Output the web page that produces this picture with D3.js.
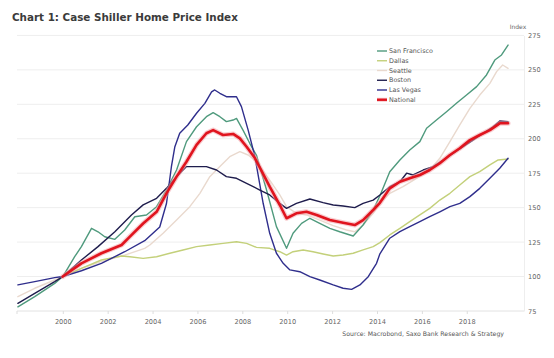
<!DOCTYPE html>
<html><head><meta charset="utf-8">
<script src="https://cdn.jsdelivr.net/npm/d3@7"></script>
<style>
html,body{margin:0;padding:0;background:#fff;}
svg{display:block;font-family:"DejaVu Sans",Verdana,sans-serif;}
</style></head>
<body>
<svg id="c" width="554" height="358"></svg>
<script>
// ---- Data (decimal year, index value) ----
const sanFrancisco = [[1998.0,78],[1998.75,85.4],[1999.64,95],[2000,100],[2000.53,114.4],[2000.83,121.7],[2001.28,135],[2001.57,132.5],[2001.87,128.9],[2002.32,127],[2002.76,133.8],[2003.21,143.4],[2003.73,144.7],[2004.18,150.7],[2004.62,162.8],[2005.07,177.3],[2005.51,197.9],[2005.96,208.7],[2006.40,216],[2006.70,218.9],[2007.0,216],[2007.29,212.4],[2007.59,213.6],[2007.74,214.8],[2008.03,206.3],[2008.33,196.7],[2008.63,188],[2009.08,162.8],[2009.52,136.2],[2009.97,120.5],[2010.26,131.4],[2010.64,138.6],[2011.01,142.3],[2011.45,138.6],[2011.90,135],[2012.34,132.5],[2012.94,129.4],[2013.38,137.4],[2013.83,148.3],[2014.13,158.6],[2014.57,176.1],[2015.02,184.6],[2015.46,191.8],[2015.91,197.9],[2016.21,207.6],[2016.65,213.6],[2017.10,219.6],[2017.54,225.7],[2017.99,231.7],[2018.44,237.8],[2018.88,246.3],[2019.25,257.1],[2019.55,260.8],[2019.84,268]];
const dallas = [[2000,100],[2000.83,106],[2001.72,112],[2002.62,114.9],[2002.99,114.4],[2003.58,113.2],[2004.18,114.4],[2004.77,116.9],[2005.36,119.3],[2005.96,121.7],[2006.55,122.9],[2007.14,124.1],[2007.74,125.3],[2008.19,124.1],[2008.63,121.2],[2009.22,120.5],[2009.67,118],[2009.97,115.6],[2010.26,118],[2010.71,119.3],[2011.15,118],[2011.60,116.4],[2012.05,114.9],[2012.49,115.6],[2012.94,116.9],[2013.38,119.3],[2013.83,121.7],[2014.13,124.6],[2014.57,130.2],[2015.02,135],[2015.46,139.8],[2015.91,144.7],[2016.35,149.5],[2016.80,155.5],[2017.25,160.4],[2017.69,166.4],[2018.14,172.5],[2018.58,176.1],[2019.03,181],[2019.40,184.6],[2019.84,185.3]];
const seattle = [[1998.0,85.4],[1998.75,91.5],[1999.64,97.5],[2000,100],[2000.83,106],[2001.72,110.8],[2002.76,115.5],[2003.65,120.5],[2003.88,122.9],[2004.47,131.4],[2005.07,141],[2005.66,150.7],[2006.11,160.4],[2006.55,172.5],[2007.0,179.8],[2007.44,187],[2007.89,190.6],[2008.26,188.2],[2008.63,183.3],[2009.22,170],[2009.67,159.2],[2009.97,150.7],[2010.41,145.9],[2010.86,144.7],[2011.45,141],[2012.05,136.9],[2012.64,133.8],[2013.01,132.5],[2013.38,137.4],[2013.83,145.9],[2014.13,153.1],[2014.57,160.4],[2015.16,165.2],[2015.76,171.3],[2016.35,177.3],[2016.80,185.8],[2017.25,197.9],[2017.69,210],[2018.14,222.1],[2018.58,231.7],[2019.03,240.2],[2019.33,248.7],[2019.60,253.5],[2019.84,251.1]];
const boston = [[1998.0,80.6],[1998.75,87.8],[1999.64,96.3],[2000,100],[2000.83,112],[2001.57,121.7],[2002.32,132.5],[2003.06,144.7],[2003.58,152],[2004.18,156.8],[2004.62,164],[2005.07,172.5],[2005.51,179.8],[2005.96,179.8],[2006.40,179.8],[2006.85,177.3],[2007.29,172.5],[2007.74,171.3],[2008.19,167.7],[2008.78,162.8],[2009.22,159.2],[2009.67,153.1],[2009.97,149.5],[2010.41,153.1],[2011.01,156.3],[2011.60,153.6],[2012.05,151.9],[2012.49,151.2],[2013.01,150],[2013.38,153.1],[2013.83,155.5],[2014.13,159.2],[2014.57,165.2],[2015.02,168.8],[2015.32,175],[2015.61,173.7],[2016.06,177.3],[2016.50,179.8],[2016.95,184.6],[2017.39,189.4],[2017.84,194.2],[2018.28,199],[2018.73,204],[2019.17,208.7],[2019.47,212.9],[2019.84,212.4]];
const lasVegas = [[1998.0,94],[1998.75,96.3],[1999.64,99.2],[2000,100],[2000.83,104.2],[2001.72,109.6],[2002.76,118],[2003.65,126],[2004.32,136],[2004.62,153],[2004.84,179.7],[2004.99,194],[2005.21,204],[2005.57,210],[2005.96,218.5],[2006.33,225.7],[2006.63,234],[2006.77,235.4],[2007.0,233],[2007.29,230.5],[2007.74,230.5],[2007.96,223.3],[2008.26,206.3],[2008.56,187],[2008.93,153],[2009.22,131.4],[2009.52,116.9],[2009.82,109.6],[2010.12,104.8],[2010.56,103.5],[2011.01,99.9],[2011.45,97.5],[2012.05,93.9],[2012.49,91.5],[2012.87,90.7],[2013.24,93.9],[2013.61,99.9],[2013.98,109.6],[2014.13,116.5],[2014.57,127.8],[2015.02,132.6],[2015.46,136.2],[2015.91,139.8],[2016.35,143.4],[2016.80,147],[2017.25,150.7],[2017.69,153.1],[2018.14,158],[2018.58,164],[2019.03,171.3],[2019.47,178.6],[2019.84,185.8]];
const national = [[2000,100],[2000.83,109.6],[2001.72,116.9],[2002.62,122.9],[2002.99,129],[2003.58,138.5],[2004.18,147],[2004.62,160.4],[2005.07,172.5],[2005.51,183.3],[2005.96,195.5],[2006.40,204],[2006.70,206.3],[2007.14,202.7],[2007.59,203.5],[2007.89,200.3],[2008.19,194.2],[2008.56,186],[2009.22,165.2],[2009.67,151.9],[2009.97,142.3],[2010.41,145.9],[2010.86,147],[2011.31,144.7],[2011.90,141],[2012.49,139.1],[2013.01,137.4],[2013.38,141],[2013.83,148.3],[2014.13,153.5],[2014.57,164],[2015.02,168.8],[2015.46,171.3],[2015.91,173.7],[2016.35,177.3],[2016.80,182.2],[2017.25,188.2],[2017.69,193.1],[2018.14,199],[2018.58,202.7],[2019.03,206.3],[2019.47,211.2],[2019.84,211.2]];

const seriesNames = ["San Francisco","Dallas","Seattle","Boston","Las Vegas","National"];
const seriesColors = ["#4f9a7d","#c3d07a","#e9d9ce","#1f1d4d","#2f2e8c","#e0141e"];
const yTicks = [75,100,125,150,175,200,225,250,275];
const xTicks = [2000,2002,2004,2006,2008,2010,2012,2014,2016,2018];
const titleText = "Chart 1: Case Shiller Home Price Index";
const sourceText = "Source: Macrobond, Saxo Bank Research & Strategy";
const unitText = "Index";

const seriesData = [sanFrancisco, dallas, seattle, boston, lasVegas, national];

const svg = d3.select("#c");
const x = d3.scaleLinear().domain([1997.96, 2019.9]).range([17, 509.4]);
const y = d3.scaleLinear().domain([75, 275]).range([311, 35.4]);
const plotRight = 524;

function fit(sel, target){
  const len = sel.node().getComputedTextLength();
  const fs = parseFloat(sel.attr("font-size"));
  sel.attr("font-size", (fs*target/len).toFixed(2));
}

// title
const t = svg.append("text").attr("x",12).attr("y",20.5).attr("font-size",11)
  .attr("font-weight","bold").attr("fill","#3b3b3b").text(titleText);
fit(t, 226);

// grid
svg.append("g").selectAll("line").data(yTicks).join("line")
  .attr("x1",17).attr("x2",plotRight)
  .attr("y1",d=>y(d)).attr("y2",d=>y(d))
  .attr("stroke", d=> d===75 ? "#e2e2e2" : "#eeeeee").attr("stroke-width",1);

// right axis (ticks labels)
const yAxis = d3.axisRight(y).tickValues(yTicks).tickSize(0).tickPadding(4);
const ya = svg.append("g").attr("transform",`translate(${plotRight},0)`).call(yAxis);
ya.select(".domain").attr("stroke","#eeeeee");
ya.selectAll("text").attr("font-size",6.6).attr("fill","#666").attr("font-family","DejaVu Sans, Verdana, sans-serif");

svg.append("text").attr("x",518).attr("y",29).attr("text-anchor","middle")
  .attr("font-size",6).attr("fill","#666").text(unitText);

// bottom axis
const xAxis = d3.axisBottom(x).tickValues(xTicks).tickFormat(d3.format("d")).tickSize(3).tickPadding(5);
const xa = svg.append("g").attr("transform","translate(0,311)").call(xAxis);
xa.select(".domain").remove();
xa.selectAll("line").attr("stroke","#dddddd");
xa.selectAll("text").attr("font-size",6.6).attr("fill","#666").attr("font-family","DejaVu Sans, Verdana, sans-serif");
svg.append("line").attr("x1",17).attr("x2",17).attr("y1",311).attr("y2",314).attr("stroke","#dddddd");

// lines
const line = d3.line().x(d=>x(d[0])).y(d=>y(d[1]));
const order = [2,1,0,4,3,5];
const g = svg.append("g").attr("fill","none").attr("stroke-linejoin","round").attr("stroke-linecap","round");
order.forEach(i=>{
  if (i===5){
    g.append("path").attr("d",line(seriesData[i])).attr("stroke","#f2a3a8").attr("stroke-width",5).attr("opacity",0.55);
    g.append("path").attr("d",line(seriesData[i])).attr("stroke",seriesColors[i]).attr("stroke-width",2.6);
  } else {
    g.append("path").attr("d",line(seriesData[i])).attr("stroke",seriesColors[i]).attr("stroke-width",1.4);
  }
});

// legend
const lg = svg.append("g").attr("transform","translate(377,51)");
seriesNames.forEach((n,i)=>{
  const yy = i*9.75;
  if (i===5){
    lg.append("line").attr("x1",0).attr("x2",10).attr("y1",yy).attr("y2",yy).attr("stroke","#f2a3a8").attr("stroke-width",4).attr("opacity",0.6);
    lg.append("line").attr("x1",0).attr("x2",10).attr("y1",yy).attr("y2",yy).attr("stroke",seriesColors[i]).attr("stroke-width",2.4);
  } else {
    lg.append("line").attr("x1",0).attr("x2",10).attr("y1",yy).attr("y2",yy).attr("stroke",seriesColors[i]).attr("stroke-width",1.4);
  }
  lg.append("text").attr("x",12).attr("y",yy).attr("dy","0.35em").attr("font-size",6.4).attr("fill","#555").text(n);
});

// source
const s = svg.append("text").attr("x",504).attr("y",335.5).attr("text-anchor","end")
  .attr("font-size",6.5).attr("fill","#555").text(sourceText);
fit(s, 162);
</script>
</body></html>
